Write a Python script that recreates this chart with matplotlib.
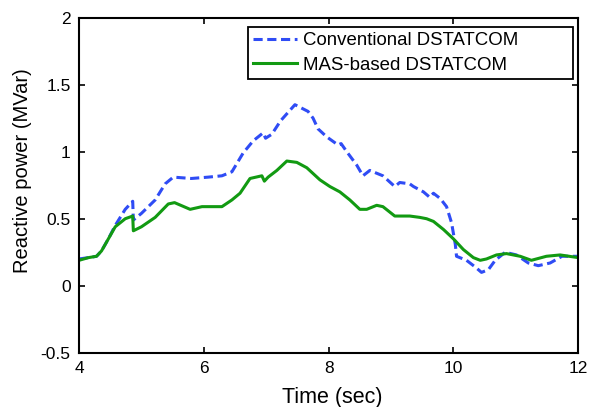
import matplotlib
matplotlib.use('Agg')
import matplotlib.pyplot as plt

# Conventional DSTATCOM (blue dashed)
conv_t = [4.00, 4.15, 4.28, 4.36, 4.47, 4.58, 4.74, 4.86, 4.87, 5.00, 5.22, 5.38,
          5.51, 5.80, 6.07, 6.29, 6.45, 6.63, 6.79, 6.95, 6.99, 7.09, 7.23, 7.46,
          7.67, 7.75, 7.83, 7.97, 8.15, 8.20, 8.29, 8.45, 8.55, 8.66, 8.87, 9.06,
          9.14, 9.30, 9.36, 9.52, 9.62, 9.68, 9.79, 9.89, 9.97, 10.03, 10.05, 10.21,
          10.35, 10.45, 10.56, 10.67, 10.83, 11.01, 11.20, 11.36, 11.55, 11.74, 12.00]
conv_q = [0.20, 0.21, 0.22, 0.26, 0.35, 0.45, 0.57, 0.63, 0.49, 0.54, 0.64, 0.76,
          0.81, 0.80, 0.81, 0.82, 0.85, 0.99, 1.08, 1.14, 1.10, 1.13, 1.23, 1.35,
          1.30, 1.25, 1.17, 1.11, 1.05, 1.06, 1.00, 0.90, 0.82, 0.86, 0.82, 0.74,
          0.77, 0.76, 0.74, 0.70, 0.66, 0.69, 0.65, 0.59, 0.47, 0.31, 0.22, 0.19,
          0.14, 0.10, 0.12, 0.19, 0.25, 0.23, 0.17, 0.15, 0.17, 0.22, 0.22]

# MAS-based DSTATCOM (green solid)
mas_t = [4.00, 4.15, 4.28, 4.36, 4.47, 4.58, 4.74, 4.86, 4.87, 5.00, 5.22, 5.43,
         5.53, 5.78, 5.97, 6.29, 6.45, 6.58, 6.74, 6.93, 6.97, 7.03, 7.17, 7.33,
         7.49, 7.65, 7.86, 8.02, 8.18, 8.34, 8.50, 8.61, 8.77, 8.87, 9.06, 9.30,
         9.46, 9.57, 9.68, 9.84, 10.00, 10.16, 10.32, 10.43, 10.53, 10.69, 10.85,
         11.07, 11.25, 11.49, 11.71, 12.00]
mas_q = [0.19, 0.21, 0.22, 0.26, 0.35, 0.44, 0.50, 0.52, 0.41, 0.44, 0.51, 0.61,
         0.62, 0.57, 0.59, 0.59, 0.64, 0.69, 0.80, 0.82, 0.78, 0.81, 0.86, 0.93,
         0.92, 0.88, 0.79, 0.74, 0.70, 0.64, 0.57, 0.57, 0.60, 0.59, 0.52, 0.52,
         0.51, 0.50, 0.48, 0.42, 0.35, 0.27, 0.21, 0.19, 0.20, 0.23, 0.24,
         0.22, 0.19, 0.22, 0.23, 0.21]

x_ticks = [4, 6, 8, 10, 12]
y_ticks = [-0.5, 0, 0.5, 1, 1.5, 2]
y_labels = ['-0.5', '0', '0.5', '1', '1.5', '2']

plt.rcParams['font.family'] = ['Liberation Sans', 'DejaVu Sans']

fig = plt.figure(figsize=(5.9, 4.07), dpi=100)
ax = fig.add_axes([0.134, 0.133, 0.846, 0.824])

ax.plot(conv_t, conv_q, color='#2f4cf5', linestyle=(0, (3, 1.5)), linewidth=2.2,
        label='Conventional DSTATCOM')
ax.plot(mas_t, mas_q, color='#129a12', linestyle='-', linewidth=2.2,
        label='MAS-based DSTATCOM')

ax.set_xlim(4, 12)
ax.set_ylim(-0.5, 2)
ax.set_xticks(x_ticks)
ax.set_yticks(y_ticks)
ax.set_yticklabels(y_labels)
ax.tick_params(direction='in', top=True, right=True, length=4, width=1.2,
               labelsize=12.5, pad=6)
for s in ax.spines.values():
    s.set_linewidth(1.5)

ax.set_xlabel('Time (sec)', fontsize=15.5)
ax.xaxis.set_label_coords(0.507, -0.102)
ax.set_ylabel('Reactive power (MVar)', fontsize=14.5)
ax.yaxis.set_label_coords(-0.094, 0.542)

# MATLAB-style legend: wide box with text left aligned
leg = ax.legend(loc='upper left', mode='expand', fontsize=13.4, frameon=True,
                fancybox=False, framealpha=1, edgecolor='black', borderpad=0.28,
                labelspacing=0.4, handlelength=2.35, handletextpad=0.3,
                borderaxespad=0, bbox_to_anchor=(0.3387, 0.8, 0.6513, 0.172))
leg.get_frame().set_linewidth(1.3)

fig.savefig('out.png', dpi=100)
